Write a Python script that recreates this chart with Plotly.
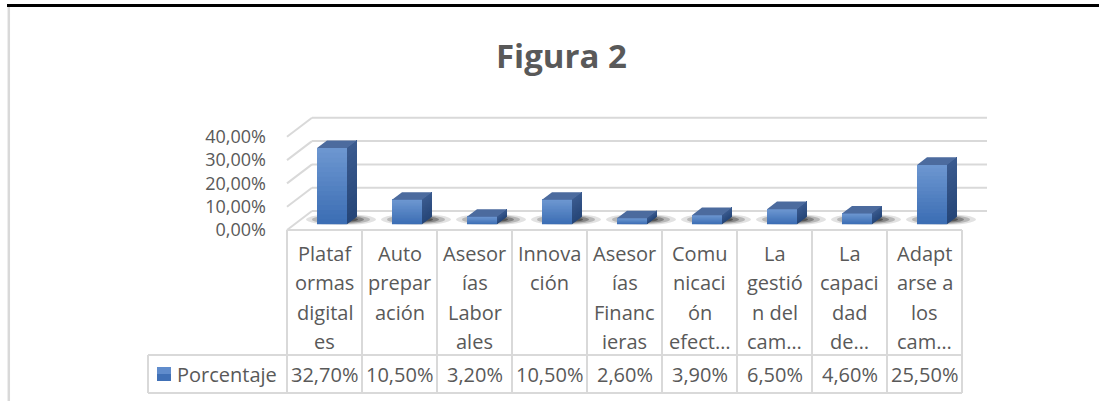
import plotly.graph_objects as go

# ---------------- data ----------------
title_text = "Figura 2"
series_name = "Porcentaje"
category_labels = [
    "Plataf\normas\ndigital\nes",
    "Auto\nprepar\nación",
    "Asesor\nías\nLabor\nales",
    "Innova\nción",
    "Asesor\nías\nFinanc\nieras",
    "Comu\nnicaci\nón\nefect…",
    "La\ngestió\nn del\ncam…",
    "La\ncapaci\ndad\nde…",
    "Adapt\narse a\nlos\ncam…",
]
values = [32.7, 10.5, 3.2, 10.5, 2.6, 3.9, 6.5, 4.6, 25.5]
y_ticks = [0, 10, 20, 30, 40]

# ---------------- layout constants ----------------
W, H = 1099, 401
X0_PX = 287.0          # left edge of front plane (x = -0.5)
PX_PER_CAT = 75.0
Y0_PX = 230.0          # front plane zero line
PX_PER_PCT = 2.33
DX = 25.0 / PX_PER_CAT  # depth offset in category units
DY = 19.0 / PX_PER_PCT  # depth offset in value units
F0, F1 = 0.3, 0.7      # bar depth (front/back fraction)
HALF_W = 0.2           # half bar width (categories)

GRID = "#d9d9d9"
TXT = "#595959"
FONT = "Open Sans"

def xpx(p):
    return -0.5 + (p - X0_PX) / PX_PER_CAT

def ypx(p):
    return (Y0_PX - p) / PX_PER_PCT

n = len(values)
xr = [xpx(0), xpx(W)]
yr = [ypx(H), ypx(0)]

fig = go.Figure()
shapes = []
annotations = []

# back wall + side wall gridlines
for v in y_ticks:
    shapes.append(dict(type="line", xref="x", yref="y", layer="below",
                       x0=-0.5 + DX, x1=n - 0.5 + DX, y0=v + DY, y1=v + DY,
                       line=dict(color=GRID, width=2)))
    shapes.append(dict(type="line", xref="x", yref="y", layer="below",
                       x0=-0.5, x1=-0.5 + DX, y0=v, y1=v + DY,
                       line=dict(color=GRID, width=2)))

# shadows
for i in range(n):
    cx = i + 16.5 / PX_PER_CAT
    cy = ypx(219.5)
    for wpx, hpx, op in [(70, 11, 0.12), (58, 9, 0.2), (46, 7, 0.3), (34, 5, 0.4)]:
        shapes.append(dict(type="circle", xref="x", yref="y", layer="below",
                           x0=cx - wpx / 2 / PX_PER_CAT, x1=cx + wpx / 2 / PX_PER_CAT,
                           y0=cy - hpx / 2 / PX_PER_PCT, y1=cy + hpx / 2 / PX_PER_PCT,
                           fillcolor=f"rgba(15,15,15,{op})", line=dict(width=0)))

# 3D bars: gradient built from progressively shorter overlapping layers
def lerp(c1, c2, t):
    return "rgb(%d,%d,%d)" % tuple(round(a + (b - a) * t) for a, b in zip(c1, c2))

FRONT_BOT, FRONT_TOP = (60, 110, 180), (108, 150, 208)
SIDE_BOT, SIDE_TOP = (38, 70, 120), (58, 90, 142)
TOP_C = "rgb(76,107,158)"
NB = 16
ddx, ddy = (F1 - F0) * DX, (F1 - F0) * DY
for k in range(NB):
    fx, fy, sx, sy = [], [], [], []
    for i, h in enumerate(values):
        xl = i - HALF_W + F0 * DX
        xrr = i + HALF_W + F0 * DX
        yb = F0 * DY + h * k / NB
        yt = F0 * DY + h
        fx += [xl, xrr, xrr, xl, xl, None]
        fy += [yb, yb, yt, yt, yb, None]
        sx += [xrr, xrr + ddx, xrr + ddx, xrr, xrr, None]
        sy += [yb, yb + ddy, yt + ddy, yt, yb, None]
    t = k / (NB - 1)
    cf = lerp(FRONT_BOT, FRONT_TOP, t)
    cs = lerp(SIDE_BOT, SIDE_TOP, t)
    fig.add_trace(go.Scatter(x=fx, y=fy, mode="lines", fill="toself", fillcolor=cf,
                             line=dict(width=0), hoverinfo="skip"))
    fig.add_trace(go.Scatter(x=sx, y=sy, mode="lines", fill="toself", fillcolor=cs,
                             line=dict(width=0), hoverinfo="skip"))

tx, ty = [], []
for i, h in enumerate(values):
    xl = i - HALF_W + F0 * DX
    xrr = i + HALF_W + F0 * DX
    ytop = F0 * DY + h
    tx += [xl, xrr, xrr + ddx, xl + ddx, xl, None]
    ty += [ytop, ytop, ytop + ddy, ytop + ddy, ytop, None]
fig.add_trace(go.Scatter(x=tx, y=ty, mode="lines", fill="toself", fillcolor=TOP_C,
                         line=dict(width=0), hoverinfo="skip", name=series_name))

# ---------------- data table ----------------
y_top, y_mid, y_bot = ypx(230), ypx(355), ypx(393)
x_left = xpx(148)
tl = dict(color=GRID, width=2)
shapes.append(dict(type="line", xref="x", yref="y", x0=-0.5, x1=n - 0.5, y0=y_top, y1=y_top, line=tl))
shapes.append(dict(type="line", xref="x", yref="y", x0=x_left, x1=n - 0.5, y0=y_mid, y1=y_mid, line=tl))
shapes.append(dict(type="line", xref="x", yref="y", x0=x_left, x1=n - 0.5, y0=y_bot, y1=y_bot, line=tl))
shapes.append(dict(type="line", xref="x", yref="y", x0=x_left, x1=x_left, y0=y_mid, y1=y_bot, line=tl))
for j in range(n + 1):
    shapes.append(dict(type="line", xref="x", yref="y", x0=j - 0.5, x1=j - 0.5,
                       y0=y_top, y1=y_bot, line=tl))

line_px = [253, 282.5, 312, 341.5]
for i, lab in enumerate(category_labels):
    for li, part in enumerate(lab.split("\n")):
        annotations.append(dict(x=i, y=ypx(line_px[li]), xref="x", yref="y", text=part,
                                showarrow=False, xanchor="center", yanchor="middle",
                                font=dict(family=FONT, size=20, color=TXT)))
    annotations.append(dict(x=i, y=ypx(374), xref="x", yref="y",
                            text=f"{values[i]:.2f}".replace(".", ",") + "%",
                            showarrow=False, xanchor="center", yanchor="middle",
                            font=dict(family=FONT, size=20, color=TXT)))

# legend key + series name
shapes.append(dict(type="rect", xref="x", yref="y", x0=xpx(157), x1=xpx(171),
                   y0=ypx(381), y1=ypx(374), fillcolor="rgb(64,112,182)", line=dict(width=0)))
shapes.append(dict(type="rect", xref="x", yref="y", x0=xpx(157), x1=xpx(171),
                   y0=ypx(374), y1=ypx(367), fillcolor="rgb(96,140,204)", line=dict(width=0)))
annotations.append(dict(x=xpx(175), y=ypx(374), xref="x", yref="y", text=series_name,
                        showarrow=False, xanchor="left", yanchor="middle",
                        font=dict(family=FONT, size=20, color=TXT)))

# title
annotations.append(dict(x=561 / W, y=1 - 55 / H, xref="paper", yref="paper", text=title_text,
                        showarrow=False, xanchor="center", yanchor="middle",
                        font=dict(family=FONT, size=33, color=TXT, weight="bold")))

# outer frame pieces
shapes.append(dict(type="line", xref="paper", yref="paper", x0=7 / W, x1=1,
                   y0=1 - 5.5 / H, y1=1 - 5.5 / H, line=dict(color="black", width=3)))
shapes.append(dict(type="line", xref="paper", yref="paper", x0=8.8 / W, x1=8.8 / W,
                   y0=0, y1=1 - 7 / H, line=dict(color=GRID, width=2.5)))

fig.update_layout(
    width=W, height=H, margin=dict(l=0, r=0, t=0, b=0),
    paper_bgcolor="white", plot_bgcolor="white", showlegend=False,
    xaxis=dict(range=xr, visible=False, fixedrange=True),
    yaxis=dict(range=yr, tickvals=y_ticks,
               ticktext=[f"{v:.2f}".replace(".", ",") + "%" for v in y_ticks],
               showgrid=False, zeroline=False, showline=False, ticks="",
               anchor="free", position=X0_PX / W, ticklabelstandoff=21,
               automargin=False, tickfont=dict(family=FONT, size=18, color=TXT),
               fixedrange=True),
    shapes=shapes, annotations=annotations,
)

fig.write_html(
    "out.html",
    config={"displayModeBar": False, "staticPlot": True},
    post_script="document.body.style.margin='0px';document.body.style.overflow='hidden';",
)
